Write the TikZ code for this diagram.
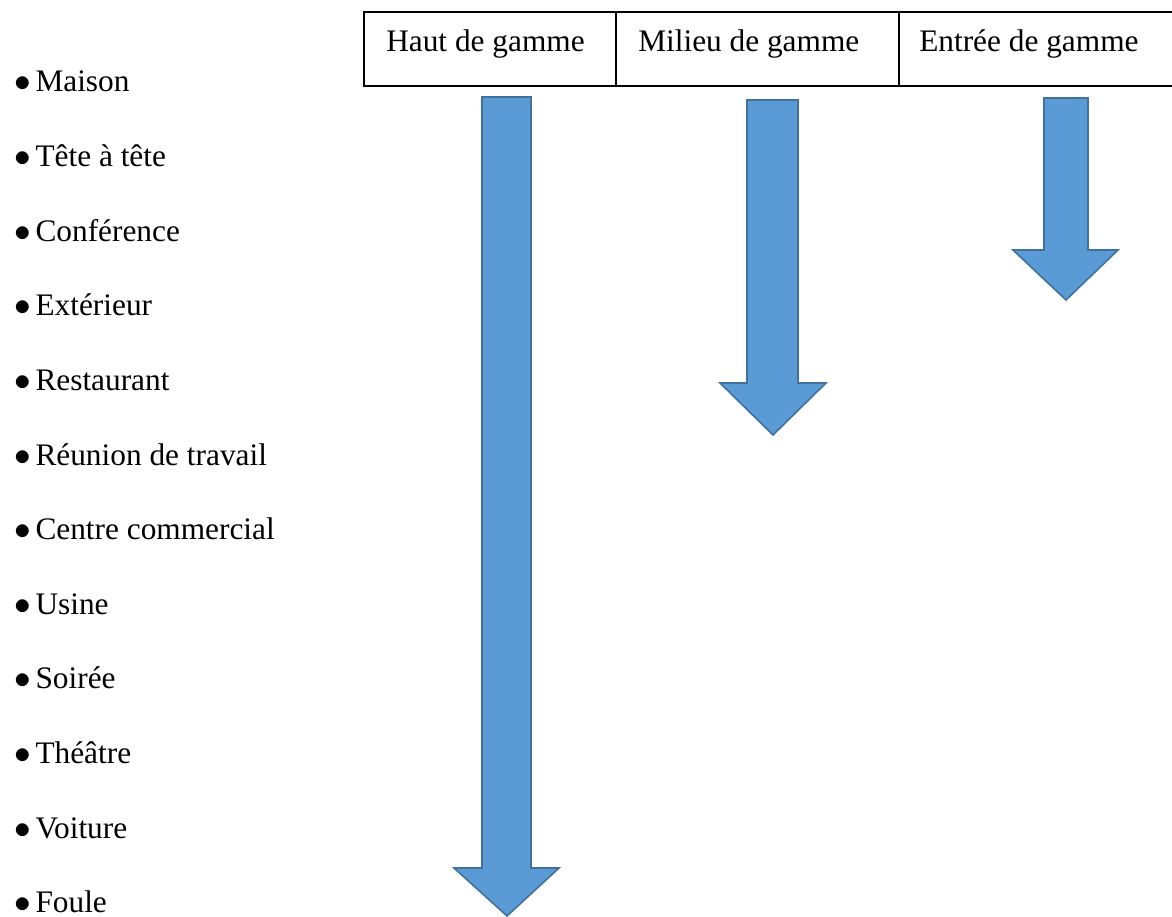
\documentclass[tikz,border=0pt]{standalone}
\usepackage{fontspec}
\setmainfont{Liberation Serif}
\definecolor{arrowfill}{HTML}{5B9BD5}
\definecolor{arrowline}{HTML}{41719C}
\tikzset{
  item/.style={anchor=base west, inner sep=0pt, font=\fontsize{23.5}{28}\selectfont},
  head/.style={anchor=base west, inner sep=0pt, font=\fontsize{23.5}{28}\selectfont},
  downarrow/.style={fill=arrowfill, draw=arrowline, line width=1.2pt, line join=miter},
  grid/.style={line width=1.4pt}
}
\begin{document}
\begin{tikzpicture}[x=0.75pt, y=-0.75pt]
\useasboundingbox (0,0) rectangle (1172,917);
% table
\draw[grid] (1180,12) -- (364,12) -- (364,86) -- (1180,86);
\draw[grid] (616,12) -- (616,86);
\draw[grid] (899,12) -- (899,86);
\node[head] (haut) at (386,52) {Haut de gamme};
\node[head] (milieu) at (638,52) {Milieu de gamme};
\node[head] (entree) at (919,52) {Entrée de gamme};
% list
\foreach \lbl [count=\i from 0] in {Maison, Tête à tête, Conférence, Extérieur, Restaurant, Réunion de travail, Centre commercial, Usine, Soirée, Théâtre, Voiture, Foule}
  \node[item] (lieu\i) at (14, 92 + 74.6*\i) {$\bullet$\hspace{3.5pt}\lbl};
% arrows
\draw[downarrow] (482,97) -- (531,97) -- (531,868) -- (559,868) -- (507,916) -- (454,868) -- (482,868) -- cycle;
\draw[downarrow] (747,100) -- (798,100) -- (798,383) -- (826,383) -- (773,435) -- (720,383) -- (747,383) -- cycle;
\draw[downarrow] (1044,98) -- (1088,98) -- (1088,250) -- (1118,250) -- (1066,300) -- (1013,250) -- (1044,250) -- cycle;
\end{tikzpicture}
\end{document}
